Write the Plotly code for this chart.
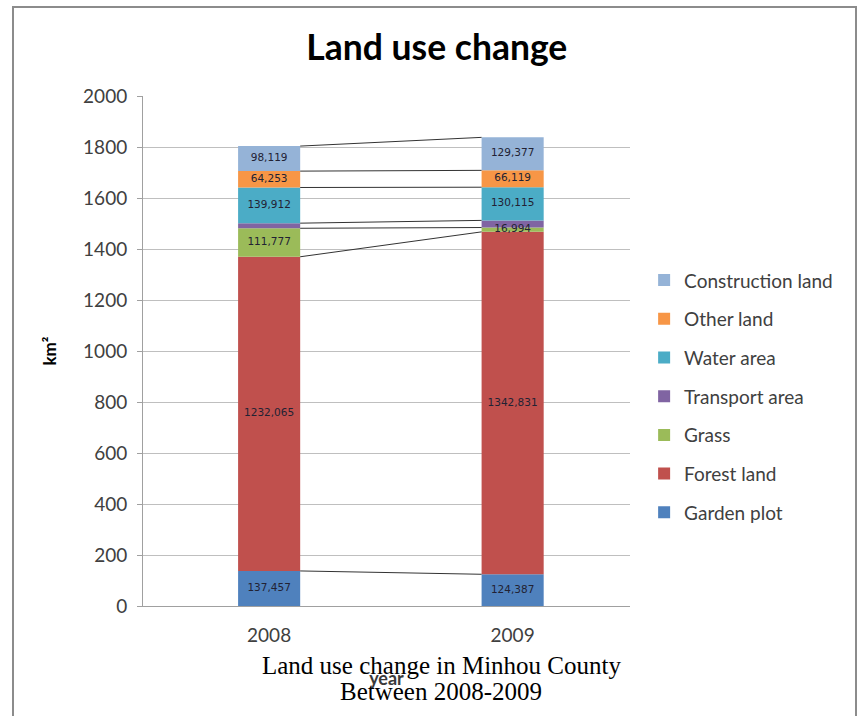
import plotly.graph_objects as go

years = ["2008", "2009"]
categories = ["Garden plot", "Forest land", "Grass", "Transport area",
              "Water area", "Other land", "Construction land"]
garden = [137.457, 124.387]
forest = [1232.065, 1342.831]
grass = [111.777, 16.994]
transport = [20.0, 28.0]
water = [139.912, 130.115]
other = [64.253, 66.119]
construction = [98.119, 129.377]
show_label = [True, True, True, False, True, True, True]
colors = ["#4F81BD", "#C0504D", "#9BBB59", "#8064A2", "#4BACC6", "#F79646", "#95B3D7"]
caption_lines = ["Land use change in Minhou County", "Between 2008-2009"]

series = [garden, forest, grass, transport, water, other, construction]
xpos = [0, 1]
bar_w = 0.255

fig = go.Figure()
base = [0.0, 0.0]
label_x, label_y, label_t = [], [], []
tops = []
for k, (name, vals, col, lab) in enumerate(zip(categories, series, colors, show_label)):
    fig.add_trace(go.Bar(x=xpos, y=vals, base=base, width=bar_w, name=name,
                         marker=dict(color=col, line=dict(width=0)),
                         legendgroup=name, legendrank=100 - k))
    top = [b + v for b, v in zip(base, vals)]
    if lab:
        for i in range(2):
            label_x.append(xpos[i])
            label_y.append(base[i] + vals[i] / 2)
            label_t.append(f"{vals[i]:.3f}".replace(".", ","))
    tops.append(top)
    base = top

# series lines
for top in tops:
    fig.add_trace(go.Scatter(x=[xpos[0] + bar_w / 2, xpos[1] - bar_w / 2], y=top,
                             mode="lines", line=dict(color="#333333", width=1),
                             showlegend=False, hoverinfo="skip"))

fig.add_trace(go.Scatter(x=label_x, y=label_y, text=label_t, mode="text",
                         textfont=dict(family="DejaVu Sans", size=10.5, color="#222233"),
                         showlegend=False, hoverinfo="skip"))

fig.update_layout(
    width=865, height=716,
    barmode="overlay",
    paper_bgcolor="white", plot_bgcolor="white",
    margin=dict(l=143, r=235, t=96, b=110),
    title=dict(text="<b>Land use change</b>", x=0.505, xanchor="center",
               y=0.933, yanchor="middle",
               font=dict(family="Lato", size=35.5, color="black")),
    legend=dict(x=1.029, y=0.676, xanchor="left", yanchor="top",
                traceorder="grouped", tracegroupgap=11,
                font=dict(family="Lato", size=19, color="#404040"),
                itemwidth=30, bgcolor="rgba(0,0,0,0)"),
    showlegend=True,
)
fig.update_xaxes(range=[-0.518, 1.482], tickvals=xpos, ticktext=years,
                 tickfont=dict(family="Lato", size=19, color="#404040"),
                 showgrid=False, showline=True, linecolor="#a0a0a0", linewidth=1,
                 ticks="", zeroline=False, ticklabelstandoff=12,
                 title=dict(text="<b>year</b>", font=dict(family="Lato", size=18, color="#3a3a3a"),
                            standoff=27))
fig.update_yaxes(range=[0, 2000], tickvals=list(range(0, 2001, 200)),
                 tickfont=dict(family="Lato", size=19, color="#404040"),
                 showgrid=True, gridcolor="#bfbfbf", gridwidth=1,
                 showline=True, linecolor="#a0a0a0", linewidth=1,
                 ticks="outside", ticklen=5, tickcolor="#a0a0a0",
                 zeroline=False, ticklabelstandoff=6,
                 title=dict(text="<b>km²</b>", font=dict(family="Lato", size=17, color="black"),
                            standoff=22))

# outer chart frame
fig.add_shape(type="rect", xref="paper", yref="paper",
              x0=(13 - 143) / 487, x1=(856 - 143) / 487,
              y0=-0.3, y1=(606 - 7) / 510,
              line=dict(color="#8c8c8c", width=2), fillcolor="rgba(0,0,0,0)", layer="below")

for line, py in zip(caption_lines, [665, 691]):
    fig.add_annotation(text=line,
                       xref="paper", yref="paper", x=(441 - 143) / 487, y=(606 - py) / 510,
                       xanchor="center", yanchor="middle", showarrow=False,
                       font=dict(family="Liberation Serif", size=25, color="black"))

fig.write_html("out.html")
